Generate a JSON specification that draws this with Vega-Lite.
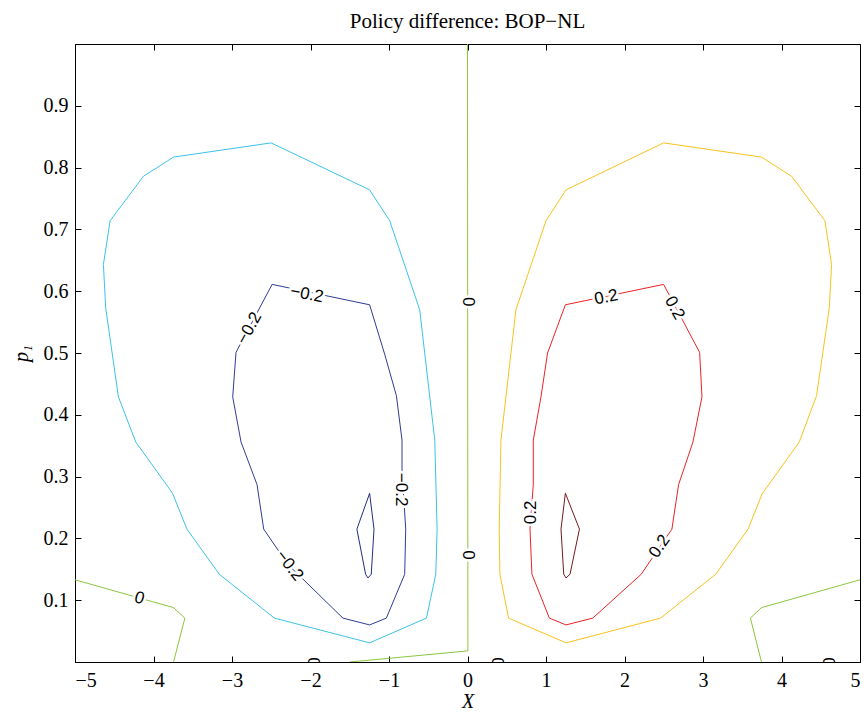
{
"$schema": "https://vega.github.io/schema/vega-lite/v6.json",
"width": 785,
"height": 618,
"autosize": "none",
"padding": {"left": 75, "top": 44, "right": 7, "bottom": 51},
"background": "white",
"title": {"text": "Policy difference: BOP−NL", "font": "Liberation Serif", "fontSize": 21, "fontWeight": "normal", "color": "black", "offset": 12, "frame": "group", "anchor": "middle"},
"config": {
  "view": {"stroke": "black", "strokeWidth": 1},
  "axis": {"labelFont": "Liberation Serif", "labelFontSize": 20, "labelColor": "black", "tickColor": "black", "domainColor": "black", "tickSize": -6, "grid": false, "titleFont": "Liberation Serif", "titleFontSize": 20, "titleFontWeight": "normal", "titleFontStyle": "italic", "titleColor": "black"}
},
"datasets": {
  "lines": [
    {"id": "a", "lv": "-0.3", "o": 0, "x": -1.247, "y": 0.273},
    {"id": "a", "lv": "-0.3", "o": 1, "x": -1.191, "y": 0.215},
    {"id": "a", "lv": "-0.3", "o": 2, "x": -1.226, "y": 0.142},
    {"id": "a", "lv": "-0.3", "o": 3, "x": -1.268, "y": 0.136},
    {"id": "a", "lv": "-0.3", "o": 4, "x": -1.298, "y": 0.142},
    {"id": "a", "lv": "-0.3", "o": 5, "x": -1.409, "y": 0.215},
    {"id": "a", "lv": "-0.3", "o": 6, "x": -1.247, "y": 0.273},

    {"id": "b", "lv": "-0.2", "o": 0, "x": -2.489, "y": 0.611},
    {"id": "b", "lv": "-0.2", "o": 1, "x": -1.247, "y": 0.578},
    {"id": "b", "lv": "-0.2", "o": 2, "x": -1.055, "y": 0.498},
    {"id": "b", "lv": "-0.2", "o": 3, "x": -0.906, "y": 0.431},
    {"id": "b", "lv": "-0.2", "o": 4, "x": -0.834, "y": 0.359},
    {"id": "b", "lv": "-0.2", "o": 5, "x": -0.834, "y": 0.31},
    {"id": "b", "lv": "-0.2", "o": 6, "x": -0.787, "y": 0.215},
    {"id": "b", "lv": "-0.2", "o": 7, "x": -0.8, "y": 0.142},
    {"id": "b", "lv": "-0.2", "o": 8, "x": -1.034, "y": 0.071},
    {"id": "b", "lv": "-0.2", "o": 9, "x": -1.247, "y": 0.06},
    {"id": "b", "lv": "-0.2", "o": 10, "x": -1.587, "y": 0.071},
    {"id": "b", "lv": "-0.2", "o": 11, "x": -2.289, "y": 0.158},
    {"id": "b", "lv": "-0.2", "o": 12, "x": -2.596, "y": 0.215},
    {"id": "b", "lv": "-0.2", "o": 13, "x": -2.681, "y": 0.287},
    {"id": "b", "lv": "-0.2", "o": 14, "x": -2.885, "y": 0.356},
    {"id": "b", "lv": "-0.2", "o": 15, "x": -2.991, "y": 0.429},
    {"id": "b", "lv": "-0.2", "o": 16, "x": -2.949, "y": 0.501},
    {"id": "b", "lv": "-0.2", "o": 17, "x": -2.489, "y": 0.611},

    {"id": "c", "lv": "-0.1", "o": 0, "x": -1.247, "y": 0.031},
    {"id": "c", "lv": "-0.1", "o": 1, "x": -0.523, "y": 0.071},
    {"id": "c", "lv": "-0.1", "o": 2, "x": -0.404, "y": 0.142},
    {"id": "c", "lv": "-0.1", "o": 3, "x": -0.387, "y": 0.215},
    {"id": "c", "lv": "-0.1", "o": 4, "x": -0.417, "y": 0.359},
    {"id": "c", "lv": "-0.1", "o": 5, "x": -0.609, "y": 0.57},
    {"id": "c", "lv": "-0.1", "o": 6, "x": -0.991, "y": 0.714},
    {"id": "c", "lv": "-0.1", "o": 7, "x": -1.247, "y": 0.764},
    {"id": "c", "lv": "-0.1", "o": 8, "x": -2.502, "y": 0.84},
    {"id": "c", "lv": "-0.1", "o": 9, "x": -3.745, "y": 0.817},
    {"id": "c", "lv": "-0.1", "o": 10, "x": -4.128, "y": 0.786},
    {"id": "c", "lv": "-0.1", "o": 11, "x": -4.553, "y": 0.714},
    {"id": "c", "lv": "-0.1", "o": 12, "x": -4.638, "y": 0.643},
    {"id": "c", "lv": "-0.1", "o": 13, "x": -4.609, "y": 0.573},
    {"id": "c", "lv": "-0.1", "o": 14, "x": -4.447, "y": 0.429},
    {"id": "c", "lv": "-0.1", "o": 15, "x": -4.226, "y": 0.356},
    {"id": "c", "lv": "-0.1", "o": 16, "x": -3.757, "y": 0.273},
    {"id": "c", "lv": "-0.1", "o": 17, "x": -3.574, "y": 0.215},
    {"id": "c", "lv": "-0.1", "o": 18, "x": -3.162, "y": 0.142},
    {"id": "c", "lv": "-0.1", "o": 19, "x": -2.46, "y": 0.071},
    {"id": "c", "lv": "-0.1", "o": 20, "x": -1.247, "y": 0.031},

    {"id": "d", "lv": "0", "o": 0, "x": 0.0, "y": 1.0},
    {"id": "d", "lv": "0", "o": 1, "x": 0.005, "y": 0.018},
    {"id": "d", "lv": "0", "o": 2, "x": -1.5, "y": 0.0},
    {"id": "e", "lv": "0", "o": 0, "x": -5.0, "y": 0.133},
    {"id": "e", "lv": "0", "o": 1, "x": -3.745, "y": 0.088},
    {"id": "e", "lv": "0", "o": 2, "x": -3.6, "y": 0.071},
    {"id": "e", "lv": "0", "o": 3, "x": -3.745, "y": 0.0},
    {"id": "f", "lv": "0", "o": 0, "x": 5.0, "y": 0.133},
    {"id": "f", "lv": "0", "o": 1, "x": 3.745, "y": 0.088},
    {"id": "f", "lv": "0", "o": 2, "x": 3.604, "y": 0.071},
    {"id": "f", "lv": "0", "o": 3, "x": 3.745, "y": 0.0},

    {"id": "g", "lv": "0.1", "o": 0, "x": 1.255, "y": 0.031},
    {"id": "g", "lv": "0.1", "o": 1, "x": 2.46, "y": 0.071},
    {"id": "g", "lv": "0.1", "o": 2, "x": 3.162, "y": 0.142},
    {"id": "g", "lv": "0.1", "o": 3, "x": 3.574, "y": 0.215},
    {"id": "g", "lv": "0.1", "o": 4, "x": 3.753, "y": 0.272},
    {"id": "g", "lv": "0.1", "o": 5, "x": 4.226, "y": 0.356},
    {"id": "g", "lv": "0.1", "o": 6, "x": 4.447, "y": 0.431},
    {"id": "g", "lv": "0.1", "o": 7, "x": 4.609, "y": 0.573},
    {"id": "g", "lv": "0.1", "o": 8, "x": 4.638, "y": 0.643},
    {"id": "g", "lv": "0.1", "o": 9, "x": 4.553, "y": 0.714},
    {"id": "g", "lv": "0.1", "o": 10, "x": 4.128, "y": 0.786},
    {"id": "g", "lv": "0.1", "o": 11, "x": 3.745, "y": 0.817},
    {"id": "g", "lv": "0.1", "o": 12, "x": 2.498, "y": 0.84},
    {"id": "g", "lv": "0.1", "o": 13, "x": 1.255, "y": 0.764},
    {"id": "g", "lv": "0.1", "o": 14, "x": 1.0, "y": 0.714},
    {"id": "g", "lv": "0.1", "o": 15, "x": 0.617, "y": 0.57},
    {"id": "g", "lv": "0.1", "o": 16, "x": 0.426, "y": 0.359},
    {"id": "g", "lv": "0.1", "o": 17, "x": 0.404, "y": 0.215},
    {"id": "g", "lv": "0.1", "o": 18, "x": 0.413, "y": 0.142},
    {"id": "g", "lv": "0.1", "o": 19, "x": 0.523, "y": 0.071},
    {"id": "g", "lv": "0.1", "o": 20, "x": 1.255, "y": 0.031},

    {"id": "h", "lv": "0.2", "o": 0, "x": 2.498, "y": 0.611},
    {"id": "h", "lv": "0.2", "o": 1, "x": 2.957, "y": 0.501},
    {"id": "h", "lv": "0.2", "o": 2, "x": 2.987, "y": 0.429},
    {"id": "h", "lv": "0.2", "o": 3, "x": 2.872, "y": 0.356},
    {"id": "h", "lv": "0.2", "o": 4, "x": 2.689, "y": 0.287},
    {"id": "h", "lv": "0.2", "o": 5, "x": 2.604, "y": 0.215},
    {"id": "h", "lv": "0.2", "o": 6, "x": 2.213, "y": 0.142},
    {"id": "h", "lv": "0.2", "o": 7, "x": 1.596, "y": 0.071},
    {"id": "h", "lv": "0.2", "o": 8, "x": 1.255, "y": 0.06},
    {"id": "h", "lv": "0.2", "o": 9, "x": 1.043, "y": 0.071},
    {"id": "h", "lv": "0.2", "o": 10, "x": 0.821, "y": 0.142},
    {"id": "h", "lv": "0.2", "o": 11, "x": 0.796, "y": 0.215},
    {"id": "h", "lv": "0.2", "o": 12, "x": 0.838, "y": 0.287},
    {"id": "h", "lv": "0.2", "o": 13, "x": 0.838, "y": 0.359},
    {"id": "h", "lv": "0.2", "o": 14, "x": 0.936, "y": 0.429},
    {"id": "h", "lv": "0.2", "o": 15, "x": 1.02, "y": 0.5},
    {"id": "h", "lv": "0.2", "o": 16, "x": 1.247, "y": 0.578},
    {"id": "h", "lv": "0.2", "o": 17, "x": 2.498, "y": 0.611},

    {"id": "i", "lv": "0.3", "o": 0, "x": 1.247, "y": 0.273},
    {"id": "i", "lv": "0.3", "o": 1, "x": 1.426, "y": 0.215},
    {"id": "i", "lv": "0.3", "o": 2, "x": 1.306, "y": 0.142},
    {"id": "i", "lv": "0.3", "o": 3, "x": 1.255, "y": 0.136},
    {"id": "i", "lv": "0.3", "o": 4, "x": 1.226, "y": 0.142},
    {"id": "i", "lv": "0.3", "o": 5, "x": 1.191, "y": 0.215},
    {"id": "i", "lv": "0.3", "o": 6, "x": 1.247, "y": 0.273}
  ],
  "labels": [
    {"t": "−0.2", "x": -2.047, "y": 0.595, "a": 11},
    {"t": "−0.2", "x": -2.779, "y": 0.54, "a": -61},
    {"t": "−0.2", "x": -0.85, "y": 0.279, "a": 90},
    {"t": "−0.2", "x": -2.268, "y": 0.156, "a": 52},
    {"t": "0.2", "x": 1.766, "y": 0.59, "a": -11},
    {"t": "0.2", "x": 2.638, "y": 0.573, "a": 61},
    {"t": "0.2", "x": 0.809, "y": 0.242, "a": -90},
    {"t": "0.2", "x": 2.447, "y": 0.187, "a": -55},
    {"t": "0", "x": 0.0, "y": 0.583, "a": 90},
    {"t": "0", "x": 0.0, "y": 0.173, "a": 90},
    {"t": "0", "x": -4.18, "y": 0.103, "a": 16},
    {"t": "0", "x": -1.97, "y": 0.0, "a": 90},
    {"t": "0", "x": 0.37, "y": 0.0, "a": 90},
    {"t": "0", "x": 4.59, "y": 0.0, "a": 90}
  ]
},
"layer": [
  {
    "data": {"name": "lines"},
    "mark": {"type": "line", "strokeWidth": 1, "clip": true},
    "encoding": {
      "x": {"field": "x", "type": "quantitative", "scale": {"domain": [-5, 5], "nice": false, "zero": false},
            "axis": {"orient": "bottom", "values": [-5, -4, -3, -2, -1, 0, 1, 2, 3, 4, 5], "format": "d", "labelPadding": 14, "title": "X", "titlePadding": 1}},
      "y": {"field": "y", "type": "quantitative", "scale": {"domain": [0, 1], "nice": false, "zero": false},
            "axis": {"orient": "left", "values": [0.1, 0.2, 0.3, 0.4, 0.5, 0.6, 0.7, 0.8, 0.9], "format": ".1f", "labelPadding": 13, "title": "p₁", "titlePadding": 12}},
      "color": {"field": "lv", "type": "nominal", "legend": null,
                "scale": {"domain": ["-0.3", "-0.2", "-0.1", "0", "0.1", "0.2", "0.3"],
                          "range": ["#252c82", "#2f3c96", "#3cc3e8", "#8cc63e", "#f7c21c", "#ec2224", "#731a1c"]}},
      "detail": {"field": "id", "type": "nominal"},
      "order": {"field": "o", "type": "quantitative"}
    }
  },
  {
    "data": {"name": "lines"},
    "mark": {"type": "line", "opacity": 0},
    "encoding": {
      "x": {"field": "x", "type": "quantitative", "axis": {"orient": "top", "values": [-5, -4, -3, -2, -1, 0, 1, 2, 3, 4, 5], "labels": false, "title": null, "domain": false}},
      "y": {"field": "y", "type": "quantitative", "axis": {"orient": "right", "values": [0.1, 0.2, 0.3, 0.4, 0.5, 0.6, 0.7, 0.8, 0.9], "labels": false, "title": null, "domain": false}},
      "detail": {"field": "id", "type": "nominal"}
    }
  },
  {
    "data": {"name": "labels"},
    "mark": {"type": "text", "font": "Liberation Sans", "fontSize": 17, "stroke": "white", "strokeWidth": 5, "fill": "white", "clip": true, "baseline": "middle", "align": "center"},
    "encoding": {
      "x": {"field": "x", "type": "quantitative", "axis": null},
      "y": {"field": "y", "type": "quantitative", "axis": null},
      "text": {"field": "t", "type": "nominal"},
      "angle": {"field": "a", "type": "quantitative", "scale": null}
    }
  },
  {
    "data": {"name": "labels"},
    "mark": {"type": "text", "font": "Liberation Sans", "fontSize": 17, "fill": "black", "clip": true, "baseline": "middle", "align": "center"},
    "encoding": {
      "x": {"field": "x", "type": "quantitative", "axis": null},
      "y": {"field": "y", "type": "quantitative", "axis": null},
      "text": {"field": "t", "type": "nominal"},
      "angle": {"field": "a", "type": "quantitative", "scale": null}
    }
  }
],
"resolve": {"axis": {"x": "independent", "y": "independent"}}
}
